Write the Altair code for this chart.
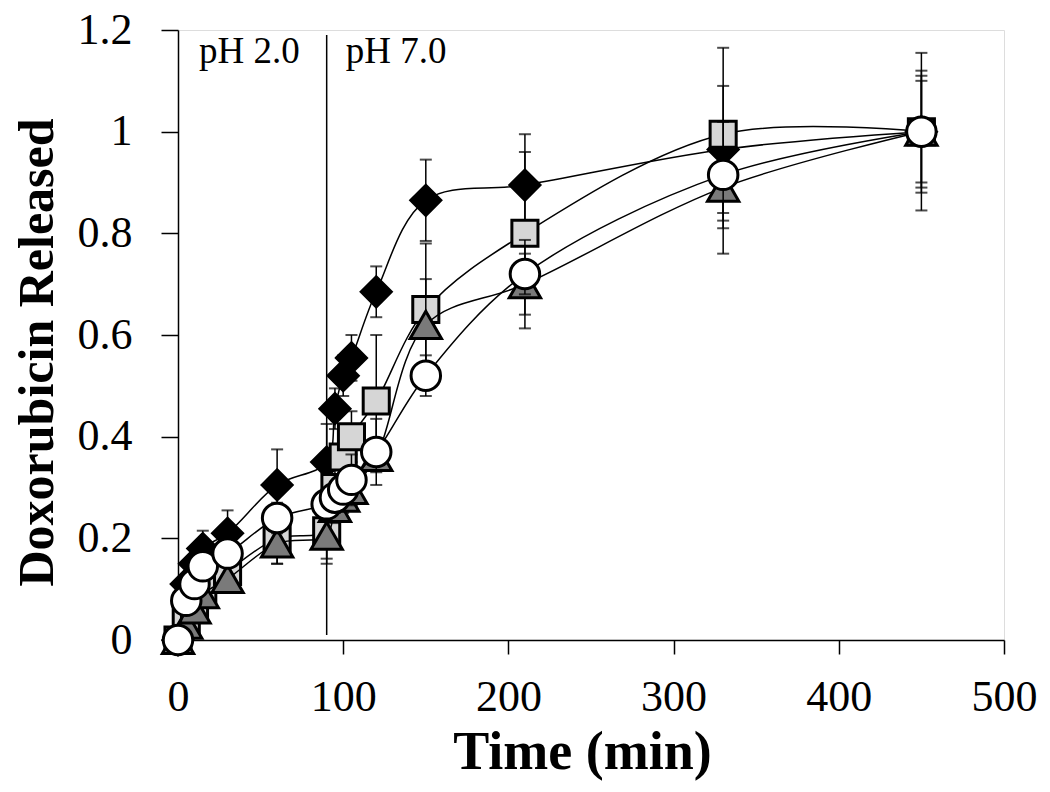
import altair as alt
import pandas as pd

# ---- data ----
times = [0, 5, 10, 15, 30, 60, 90, 95, 100, 105, 120, 150, 210, 330, 450]

diamond_vals = [0, 0.11, 0.15, 0.18, 0.21, 0.305, 0.35, 0.455, 0.52, 0.555, 0.685, 0.865, 0.895, 0.965, 1.0]
diamond_err = [0, 0.02, 0.03, 0.035, 0.045, 0.07, 0.075, 0.04, 0.04, 0.045, 0.05, 0.08, 0.10, 0.125, 0.12]

square_vals = [0, 0.04, 0.07, 0.10, 0.135, 0.20, 0.215, 0.30, 0.36, 0.40, 0.47, 0.65, 0.80, 0.995, 1.0]
square_err = [0, 0.01, 0.015, 0.02, 0.03, 0.05, 0.055, 0.04, 0.04, 0.05, 0.13, 0.13, 0.16, 0.17, 0.155]

triangle_vals = [0, 0.03, 0.06, 0.09, 0.12, 0.19, 0.205, 0.26, 0.28, 0.295, 0.36, 0.62, 0.70, 0.89, 1.0]
triangle_err = [0, 0.01, 0.015, 0.02, 0.025, 0.04, 0.055, 0.03, 0.03, 0.03, 0.03, 0.09, 0.087, 0.13, 0.10]

circle_vals = [0, 0.077, 0.11, 0.145, 0.17, 0.24, 0.267, 0.28, 0.296, 0.315, 0.37, 0.52, 0.72, 0.915, 1.0]
circle_err = [0, 0.01, 0.015, 0.02, 0.02, 0.03, 0.03, 0.03, 0.03, 0.05, 0.065, 0.04, 0.04, 0.105, 0.11]

series_names = ["Diamond", "Square", "Triangle", "Circle"]
series_shapes = ["diamond", "square", "triangle-up", "circle"]
series_fills = ["#000000", "#d6d6d6", "#7a7a7a", "#ffffff"]
series_sizes = [900, 680, 980, 870]

x_ticks = [0, 100, 200, 300, 400, 500]
y_ticks = [0, 0.2, 0.4, 0.6, 0.8, 1.0, 1.2]

ph_switch_time = 90
ph_labels = ["pH 2.0", "pH 7.0"]

FONT = "Liberation Serif"

rows = []
for name, vals, errs in [
    ("Diamond", diamond_vals, diamond_err),
    ("Square", square_vals, square_err),
    ("Triangle", triangle_vals, triangle_err),
    ("Circle", circle_vals, circle_err),
]:
    for t, v, e in zip(times, vals, errs):
        rows.append({"series": name, "t": t, "v": v, "lo": v - e, "hi": v + e})
df = pd.DataFrame(rows)

x_scale = alt.Scale(domain=[0, 500], nice=False, zero=False)
y_scale = alt.Scale(domain=[0, 1.2], nice=False, zero=False)

x_axis = alt.Axis(
    values=x_ticks, title="Time (min)", grid=False,
    tickSize=14, tickWidth=1.5, tickColor="black",
    domainColor="black", domainWidth=1.5,
    labelFont=FONT, labelFontSize=44, labelColor="black", labelPadding=21,
    labelFlush=False, labelOverlap=False,
    titleFont=FONT, titleFontSize=54, titleFontWeight="bold", titleColor="black",
    titleBaseline="alphabetic", titleX=404, titleY=128, titleAnchor="middle",
)
y_axis = alt.Axis(
    values=y_ticks, format="~g", title="Doxorubicin Released", grid=False,
    tickSize=17, tickWidth=1.5, tickColor="black",
    domainColor="black", domainWidth=1.5,
    labelFont=FONT, labelFontSize=44, labelColor="black", labelPadding=29,
    labelFlush=False, labelOverlap=False,
    titleFont=FONT, titleFontSize=50, titleFontWeight="bold", titleColor="black",
    titleX=-116, titleY=322, titleAngle=-90,
)

base = alt.Chart(df)

layers = []

# pH switch line
ph_df = pd.DataFrame({"t": [ph_switch_time], "y0": [0.01], "y1": [1.19]})
layers.append(
    alt.Chart(ph_df).mark_rule(color="black", strokeWidth=1.5).encode(
        x=alt.X("t:Q", scale=x_scale, axis=x_axis),
        y=alt.Y("y0:Q", scale=y_scale, axis=y_axis),
        y2="y1:Q",
    )
)

# pH labels
lab_df = pd.DataFrame({"t": [ph_switch_time, ph_switch_time], "y": [1.2, 1.2], "label": ph_labels})
layers.append(
    alt.Chart(lab_df).transform_filter(alt.datum.label == ph_labels[0]).mark_text(
        font=FONT, fontSize=37, align="right", baseline="alphabetic", dx=-27, dy=33, color="black"
    ).encode(x=alt.X("t:Q", scale=x_scale), y=alt.Y("y:Q", scale=y_scale), text="label:N")
)
layers.append(
    alt.Chart(lab_df).transform_filter(alt.datum.label == ph_labels[1]).mark_text(
        font=FONT, fontSize=37, align="left", baseline="alphabetic", dx=19, dy=33, color="black"
    ).encode(x=alt.X("t:Q", scale=x_scale), y=alt.Y("y:Q", scale=y_scale), text="label:N")
)

for name, shape, fill, size in zip(series_names, series_shapes, series_fills, series_sizes):
    sub = base.transform_filter(alt.datum.series == name)
    # error bars
    layers.append(
        sub.transform_filter(alt.datum.hi > alt.datum.lo).mark_rule(color="black", strokeWidth=1.5).encode(
            x=alt.X("t:Q", scale=x_scale), y=alt.Y("lo:Q", scale=y_scale), y2="hi:Q"
        )
    )
    for col in ["lo", "hi"]:
        layers.append(
            sub.transform_filter(alt.datum.hi > alt.datum.lo).mark_tick(
                orient="horizontal", size=12, thickness=2, color="black"
            ).encode(x=alt.X("t:Q", scale=x_scale), y=alt.Y(f"{col}:Q", scale=y_scale))
        )
    # smoothed line
    layers.append(
        sub.mark_line(interpolate="catmull-rom", color="black", strokeWidth=1.5).encode(
            x=alt.X("t:Q", scale=x_scale), y=alt.Y("v:Q", scale=y_scale)
        )
    )
    # markers
    layers.append(
        sub.mark_point(
            shape=shape, size=size, filled=True, fill=fill, stroke="black",
            strokeWidth=3, opacity=1, fillOpacity=1
        ).encode(x=alt.X("t:Q", scale=x_scale), y=alt.Y("v:Q", scale=y_scale))
    )

chart = alt.layer(*layers).properties(
    width=826,
    height=610,
    autosize=alt.AutoSizeParams(type="none"),
    padding={"left": 170, "top": 22, "right": 38, "bottom": 144},
).configure_view(strokeWidth=0).configure(background="white")

chart.save("out.html", embed_options={"renderer": "svg", "actions": False})
